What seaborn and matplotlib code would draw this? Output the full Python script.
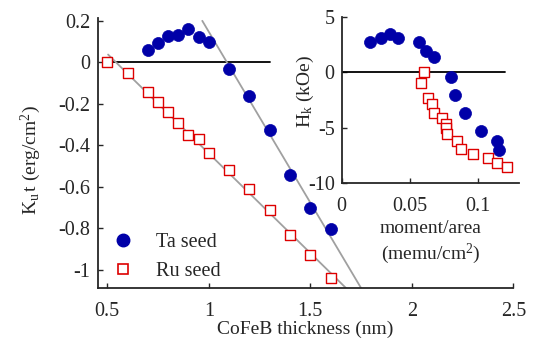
import numpy as np
import pandas as pd
import matplotlib
matplotlib.use('Agg')
import matplotlib.pyplot as plt
from matplotlib.lines import Line2D
import seaborn as sns

# ---- data ----
ta_thick = [0.70, 0.75, 0.80, 0.85, 0.90, 0.95, 1.00, 1.10, 1.20, 1.30, 1.40, 1.50, 1.60]
ta_kut = [0.057, 0.092, 0.128, 0.133, 0.160, 0.120, 0.099, -0.032, -0.164, -0.324, -0.542, -0.700, -0.805]
ru_thick = [0.50, 0.60, 0.70, 0.75, 0.80, 0.85, 0.90, 0.95, 1.00, 1.10, 1.20, 1.30, 1.40, 1.50, 1.60]
ru_kut = [0.0, -0.05, -0.145, -0.19, -0.24, -0.295, -0.35, -0.37, -0.435, -0.52, -0.61, -0.71, -0.83, -0.93, -1.04]

ta_moment = [0.021, 0.029, 0.0357, 0.0415, 0.0563, 0.062, 0.0676, 0.0804, 0.0833, 0.0906, 0.102, 0.114, 0.115]
ta_hk = [2.71, 3.11, 3.47, 3.11, 2.71, 1.96, 1.42, -0.45, -2.02, -3.62, -5.27, -6.18, -7.02]
ru_moment = [0.0604, 0.058, 0.0635, 0.0664, 0.0676, 0.0736, 0.0765, 0.0761, 0.0772, 0.0845, 0.0877, 0.0959, 0.107, 0.1135, 0.121]
ru_hk = [0.0, -0.96, -2.26, -2.86, -3.62, -4.07, -4.61, -4.97, -5.57, -6.18, -6.93, -7.32, -7.74, -8.14, -8.50]

# linear fits: (slope, intercept, x-start, x-end)
ta_fit = (-1.646, 1.793, 0.968, 1.80)
ru_fit = (-0.960, 0.521, 0.504, 1.75)

BLUE = '#0000a8'
RED = '#dd0000'
GRAY = '#a0a0a0'

sns.set_style('ticks')
plt.rcParams['font.family'] = ['Liberation Serif', 'DejaVu Serif']
plt.rcParams['mathtext.fontset'] = 'custom'
plt.rcParams['mathtext.rm'] = 'Liberation Serif'
plt.rcParams['mathtext.it'] = 'Liberation Serif:italic'
plt.rcParams['mathtext.bf'] = 'Liberation Serif:bold'
FS = 14.5
LFS = 14

fig = plt.figure(figsize=(5.33, 3.46), dpi=100)
ax = fig.add_axes([0.183, 0.168, 0.780, 0.781])

df_ta = pd.DataFrame({'t': ta_thick, 'k': ta_kut})
df_ru = pd.DataFrame({'t': ru_thick, 'k': ru_kut})

# zero line
sns.lineplot(x=[0.5, 1.3], y=[0, 0], ax=ax, color='black', lw=1.3, zorder=1)
# fit lines
for slope, icpt, x0, x1 in (ta_fit, ru_fit):
    xs = np.array([x0, x1])
    sns.lineplot(x=xs, y=slope * xs + icpt, ax=ax, color=GRAY, lw=1.3, zorder=2)

sns.scatterplot(data=df_ta, x='t', y='k', ax=ax, marker='o', s=75, color=BLUE,
                edgecolor=BLUE, linewidth=0.5, zorder=3)
sns.scatterplot(data=df_ru, x='t', y='k', ax=ax, marker='s', s=55, facecolor='white',
                edgecolor=RED, linewidth=1.0, zorder=3)

ax.set_xlim(0.452, 2.5)
ax.set_ylim(-1.087, 0.215)
ax.set_xticks([0.5, 1, 1.5, 2, 2.5])
ax.set_xticklabels(['0.5', '1', '1.5', '2', '2.5'])
ax.set_yticks([0.2, 0, -0.2, -0.4, -0.6, -0.8, -1])
ax.set_yticklabels(['0.2', '0', '-0.2', '-0.4', '-0.6', '-0.8', '-1'])
ax.tick_params(direction='in', length=3.5, width=1, labelsize=FS, pad=5)
ax.tick_params(axis='x', pad=10)
for s in ('top', 'right'):
    ax.spines[s].set_visible(False)
for s in ('left', 'bottom'):
    ax.spines[s].set_linewidth(1.3)
ax.set_xlabel('CoFeB thickness (nm)', fontsize=LFS, labelpad=0)
ax.set_ylabel(r'K$_\mathrm{u}\,$t (erg/cm$^2$)', fontsize=LFS)
ax.yaxis.set_label_coords(-0.131, 0.473)

handles = [Line2D([], [], ls='none', marker='o', ms=9, color=BLUE, mec=BLUE),
           Line2D([], [], ls='none', marker='s', ms=6.5, mfc='white', mec=RED, mew=1.2)]
ax.legend(handles, ['Ta seed', 'Ru seed'], loc='lower left', bbox_to_anchor=(-0.02, -0.04),
          frameon=False, fontsize=FS, handletextpad=0.8, labelspacing=0.45,
          handlelength=1.6)

# ---- inset ----
ins = fig.add_axes([0.641, 0.470, 0.333, 0.481])
ins.set_facecolor('white')
df_ta2 = pd.DataFrame({'m': ta_moment, 'h': ta_hk})
df_ru2 = pd.DataFrame({'m': ru_moment, 'h': ru_hk})
sns.lineplot(x=[0, 0.12], y=[0, 0], ax=ins, color='black', lw=1.3, zorder=1)
sns.scatterplot(data=df_ta2, x='m', y='h', ax=ins, marker='o', s=75, color=BLUE,
                edgecolor=BLUE, linewidth=0.5, zorder=3)
sns.scatterplot(data=df_ru2, x='m', y='h', ax=ins, marker='s', s=50, facecolor='white',
                edgecolor=RED, linewidth=1.0, zorder=3)
ins.set_xlim(0, 0.13)
ins.set_ylim(-10, 5)
ins.set_xticks([0, 0.05, 0.1])
ins.set_xticklabels(['0', '0.05', '0.1'])
ins.set_yticks([-10, -5, 0, 5])
ins.set_yticklabels(['-10', '-5', '0', '5'])
ins.tick_params(direction='in', length=3.5, width=1, labelsize=FS, pad=5)
ins.tick_params(axis='x', pad=10)
for s in ('top', 'right'):
    ins.spines[s].set_visible(False)
for s in ('left', 'bottom'):
    ins.spines[s].set_linewidth(1.3)
ins.set_xlabel('moment/area\n(memu/cm$^2$)', fontsize=LFS, labelpad=3, linespacing=1.25)
ins.set_ylabel(r'H$_\mathrm{k}$ (kOe)', fontsize=LFS)
ins.yaxis.set_label_coords(-0.142, 0.555)

fig.savefig('out.png', dpi=100)
